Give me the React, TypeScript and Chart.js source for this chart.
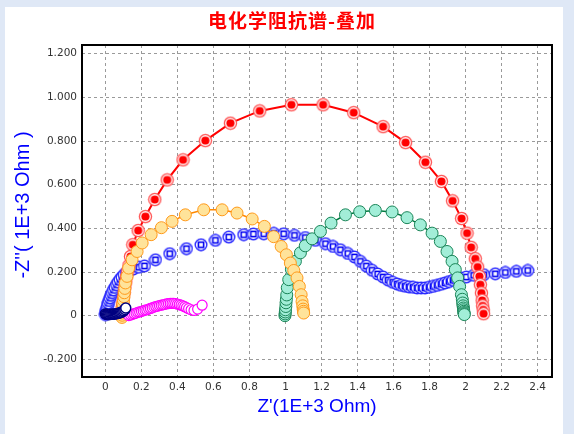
import React, { useEffect, useRef } from "react";
import { Chart, registerables } from "chart.js";

Chart.register(...registerables);

const TITLE = "电化学阻抗谱-叠加";
const X_TITLE = "Z'(1E+3 Ohm)";
const Y_TITLE = "-Z''( 1E+3 Ohm )";

const xTicks = [0, 0.2, 0.4, 0.6, 0.8, 1, 1.2, 1.4, 1.6, 1.8, 2, 2.2, 2.4];
const xTickLabels = ["0", "0.2", "0.4", "0.6", "0.8", "1", "1.2", "1.4", "1.6", "1.8", "2", "2.2", "2.4"];
const yTicks = [-0.2, 0, 0.2, 0.4, 0.6, 0.8, 1.0, 1.2];
const yTickLabels = ["-0.200", "0", "0.200", "0.400", "0.600", "0.800", "1.000", "1.200"];

// Red series
const redX = [0.089, 0.090, 0.092, 0.094, 0.097, 0.100, 0.104, 0.108, 0.113, 0.118, 0.124, 0.131, 0.139, 0.152, 0.182, 0.222, 0.274, 0.343, 0.431, 0.555, 0.694, 0.857, 1.033, 1.209, 1.379, 1.542, 1.667, 1.777, 1.866, 1.928, 1.978, 2.008, 2.031, 2.054, 2.067, 2.077, 2.082, 2.088, 2.092, 2.095, 2.098, 2.100];
const redY = [0.005, 0.015, 0.027, 0.042, 0.060, 0.082, 0.106, 0.130, 0.155, 0.180, 0.204, 0.230, 0.271, 0.325, 0.390, 0.454, 0.532, 0.622, 0.714, 0.802, 0.882, 0.938, 0.966, 0.966, 0.930, 0.866, 0.793, 0.703, 0.615, 0.526, 0.445, 0.378, 0.313, 0.261, 0.223, 0.180, 0.142, 0.104, 0.070, 0.045, 0.027, 0.009];

// Orange series
const orangeX = [0.092, 0.093, 0.094, 0.095, 0.096, 0.097, 0.100, 0.103, 0.105, 0.108, 0.111, 0.120, 0.129, 0.148, 0.176, 0.204, 0.254, 0.311, 0.370, 0.444, 0.546, 0.648, 0.731, 0.815, 0.883, 0.934, 0.976, 1.005, 1.027, 1.046, 1.064, 1.077, 1.087, 1.092, 1.096, 1.098, 1.100, 1.101];
const orangeY = [-0.008, 0.002, 0.012, 0.023, 0.038, 0.055, 0.070, 0.087, 0.105, 0.125, 0.150, 0.180, 0.218, 0.256, 0.294, 0.333, 0.371, 0.403, 0.432, 0.462, 0.485, 0.485, 0.470, 0.443, 0.409, 0.362, 0.317, 0.279, 0.241, 0.207, 0.173, 0.134, 0.096, 0.065, 0.045, 0.030, 0.020, 0.012];

// Green series
const greenX = [0.997, 0.998, 0.999, 1.000, 1.002, 1.003, 1.005, 1.007, 1.010, 1.018, 1.033, 1.055, 1.083, 1.110, 1.148, 1.194, 1.253, 1.333, 1.412, 1.499, 1.592, 1.675, 1.749, 1.814, 1.860, 1.897, 1.925, 1.943, 1.956, 1.967, 1.977, 1.982, 1.984, 1.986, 1.988, 1.989, 1.990, 1.991, 1.992, 1.993];
const greenY = [0.000, 0.008, 0.017, 0.027, 0.042, 0.059, 0.075, 0.095, 0.128, 0.165, 0.211, 0.249, 0.288, 0.320, 0.352, 0.386, 0.424, 0.462, 0.476, 0.482, 0.475, 0.449, 0.416, 0.378, 0.340, 0.294, 0.249, 0.211, 0.173, 0.134, 0.096, 0.075, 0.058, 0.045, 0.035, 0.027, 0.020, 0.014, 0.009, 0.005];

// Blue series (circle + square markers)
const blueX = [0.000, 0.002, 0.005, 0.008, 0.012, 0.016, 0.021, 0.026, 0.032, 0.038, 0.045, 0.053, 0.062, 0.071, 0.081, 0.092, 0.104, 0.118, 0.134, 0.155, 0.185, 0.217, 0.278, 0.357, 0.450, 0.531, 0.611, 0.685, 0.768, 0.822, 0.879, 0.935, 0.990, 1.050, 1.110, 1.166, 1.222, 1.264, 1.305, 1.346, 1.383, 1.416, 1.449, 1.481, 1.512, 1.542, 1.570, 1.595, 1.620, 1.642, 1.664, 1.686, 1.708, 1.731, 1.753, 1.775, 1.797, 1.819, 1.842, 1.864, 1.886, 1.908, 1.930, 1.953, 1.975, 2.004, 2.045, 2.101, 2.165, 2.221, 2.282, 2.345];
const blueY = [0.005, 0.014, 0.024, 0.035, 0.046, 0.058, 0.070, 0.082, 0.094, 0.106, 0.118, 0.130, 0.142, 0.154, 0.166, 0.177, 0.188, 0.198, 0.207, 0.214, 0.222, 0.228, 0.256, 0.284, 0.307, 0.325, 0.345, 0.360, 0.371, 0.374, 0.375, 0.377, 0.375, 0.368, 0.358, 0.345, 0.330, 0.317, 0.302, 0.285, 0.269, 0.249, 0.227, 0.208, 0.191, 0.177, 0.163, 0.153, 0.145, 0.139, 0.135, 0.132, 0.130, 0.127, 0.127, 0.127, 0.130, 0.134, 0.139, 0.144, 0.150, 0.156, 0.162, 0.166, 0.171, 0.177, 0.185, 0.188, 0.192, 0.198, 0.203, 0.207];

// Magenta series
const magentaX = [0.130, 0.140, 0.150, 0.160, 0.170, 0.180, 0.190, 0.200, 0.210, 0.220, 0.230, 0.240, 0.250, 0.260, 0.270, 0.280, 0.290, 0.300, 0.310, 0.320, 0.330, 0.340, 0.350, 0.360, 0.370, 0.380, 0.390, 0.400, 0.410, 0.420, 0.430, 0.440, 0.450, 0.462, 0.476, 0.492, 0.512, 0.537];
const magentaY = [0.000, 0.003, 0.006, 0.009, 0.012, 0.015, 0.017, 0.020, 0.022, 0.025, 0.027, 0.030, 0.033, 0.036, 0.039, 0.042, 0.044, 0.046, 0.048, 0.050, 0.052, 0.054, 0.055, 0.056, 0.056, 0.056, 0.055, 0.053, 0.051, 0.048, 0.045, 0.041, 0.037, 0.032, 0.027, 0.024, 0.030, 0.048];

// Navy series (dense cluster near origin)
const navyX = [0.000, 0.006, 0.012, 0.018, 0.024, 0.030, 0.036, 0.042, 0.048, 0.054, 0.060, 0.066, 0.072, 0.078, 0.084, 0.090, 0.096, 0.102, 0.108, 0.113];
const navyY = [0.008, 0.006, 0.005, 0.005, 0.005, 0.006, 0.006, 0.007, 0.008, 0.008, 0.009, 0.010, 0.011, 0.012, 0.014, 0.016, 0.019, 0.023, 0.028, 0.035];

const X_MIN = -0.13;
const X_MAX = 2.48;
const Y_MIN = -0.281;
const Y_MAX = 1.24;

function pts(xs: number[], ys: number[]) {
  return xs.map((x, i) => ({ x, y: ys[i] }));
}

function makeMarker(size: number, draw: (ctx: CanvasRenderingContext2D, c: number) => void) {
  const cv = document.createElement("canvas");
  cv.width = size;
  cv.height = size;
  const ctx = cv.getContext("2d")!;
  draw(ctx, size / 2);
  return cv;
}

export default function App() {
  const ref = useRef<HTMLCanvasElement | null>(null);

  useEffect(() => {
    document.body.style.margin = "0";
    const canvas = ref.current;
    if (!canvas) return;

    const redMarker = makeMarker(15, (ctx, c) => {
      ctx.beginPath();
      ctx.arc(c, c, 6.7, 0, Math.PI * 2);
      ctx.fillStyle = "#ff5252";
      ctx.fill();
      ctx.beginPath();
      ctx.arc(c, c, 5.4, 0, Math.PI * 2);
      ctx.fillStyle = "#ffffff";
      ctx.fill();
      ctx.beginPath();
      ctx.arc(c, c, 4.1, 0, Math.PI * 2);
      ctx.fillStyle = "#ff0000";
      ctx.fill();
    });

    const blueMarker = makeMarker(14, (ctx, c) => {
      ctx.beginPath();
      ctx.arc(c, c, 5.8, 0, Math.PI * 2);
      ctx.fillStyle = "#ffffff";
      ctx.fill();
      ctx.lineWidth = 1.4;
      ctx.strokeStyle = "#2a2aff";
      ctx.stroke();
      ctx.lineWidth = 1.6;
      ctx.strokeStyle = "#0000f0";
      ctx.strokeRect(c - 2.6, c - 2.6, 5.2, 5.2);
    });

    const bgPlugin = {
      id: "bgPlugin",
      beforeDraw(chart: any) {
        const ctx = chart.ctx;
        ctx.save();
        ctx.fillStyle = "#dfe8f6";
        ctx.fillRect(0, 0, chart.width, chart.height);
        ctx.fillStyle = "#ffffff";
        ctx.fillRect(5, 7, 558, chart.height - 7);
        ctx.restore();
      },
      afterDraw(chart: any) {
        const ctx = chart.ctx;
        const a = chart.chartArea;
        ctx.save();
        ctx.strokeStyle = "#000000";
        ctx.lineWidth = 2;
        ctx.strokeRect(a.left, a.top, a.right - a.left, a.bottom - a.top);

        ctx.fillStyle = "#ff0000";
        ctx.font = 'bold 19px "Noto Sans CJK SC"';
        ctx.textAlign = "center";
        ctx.textBaseline = "middle";
        try { (ctx as any).letterSpacing = "1px"; } catch (e) {}
        ctx.fillText(TITLE, 292, 21);
        try { (ctx as any).letterSpacing = "0px"; } catch (e) {}

        ctx.fillStyle = "#0000ff";
        ctx.font = '19px "Liberation Sans", Arial, sans-serif';
        ctx.fillText(X_TITLE, 317, 407);

        ctx.translate(23, 205);
        ctx.rotate(-Math.PI / 2);
        ctx.font = '20px "Liberation Sans", Arial, sans-serif';
        ctx.fillText(Y_TITLE, 0, 0);
        ctx.restore();
      },
    };

    const tickFont = { family: '"DejaVu Sans", sans-serif', size: 10.5 };

    const chart = new Chart(canvas, {
      type: "scatter",
      data: {
        datasets: [
          {
            label: "navy",
            data: pts(navyX, navyY),
            showLine: false,
            pointStyle: "circle",
            pointRadius: 5,
            pointBackgroundColor: "#ffffff",
            pointBorderColor: "#000080",
            pointBorderWidth: 1.5,
            order: 0,
          },
          {
            label: "magenta",
            data: pts(magentaX, magentaY),
            showLine: false,
            pointStyle: "circle",
            pointRadius: 5,
            pointBackgroundColor: "#ffffff",
            pointBorderColor: "#ff00ff",
            pointBorderWidth: 1.2,
            order: 1,
          },
          {
            label: "orange",
            data: pts(orangeX, orangeY),
            showLine: true,
            borderColor: "#ff8800",
            borderWidth: 1.5,
            pointStyle: "circle",
            pointRadius: 6,
            pointBackgroundColor: "#ffe39a",
            pointBorderColor: "#ff9a1a",
            pointBorderWidth: 1,
            order: 2,
          },
          {
            label: "red",
            data: pts(redX, redY),
            showLine: true,
            borderColor: "#ff0000",
            borderWidth: 2,
            pointStyle: redMarker as any,
            pointRadius: 6,
            order: 3,
          },
          {
            label: "green",
            data: pts(greenX, greenY),
            showLine: true,
            borderColor: "#007a40",
            borderWidth: 1.5,
            pointStyle: "circle",
            pointRadius: 6,
            pointBackgroundColor: "#a2eed8",
            pointBorderColor: "#1a8558",
            pointBorderWidth: 1,
            order: 4,
          },
          {
            label: "blue",
            data: pts(blueX, blueY),
            showLine: false,
            pointStyle: blueMarker as any,
            pointRadius: 6,
            order: 5,
          },
        ],
      },
      options: {
        animation: false,
        responsive: false,
        devicePixelRatio: 1,
        events: [],
        layout: { padding: { left: 0, top: 45, right: 22, bottom: 0 } },
        plugins: {
          legend: { display: false },
          tooltip: { enabled: false },
          title: { display: false },
        },
        scales: {
          x: {
            type: "linear",
            min: X_MIN,
            max: X_MAX,
            afterBuildTicks: (s: any) => {
              s.ticks = xTicks.map((v) => ({ value: v }));
            },
            afterFit: (s: any) => {
              s.height = 57;
            },
            ticks: {
              autoSkip: false,
              maxRotation: 0,
              padding: 4,
              color: "#333333",
              font: tickFont,
              callback: (v: any) => {
                const i = xTicks.findIndex((t) => Math.abs(t - Number(v)) < 1e-6);
                return i >= 0 ? xTickLabels[i] : "";
              },
            },
            grid: { color: "#9a9a9a", lineWidth: 1, drawTicks: false },
            border: { display: false, dash: [3, 3] },
          },
          y: {
            type: "linear",
            min: Y_MIN,
            max: Y_MAX,
            afterBuildTicks: (s: any) => {
              s.ticks = yTicks.map((v) => ({ value: v }));
            },
            afterFit: (s: any) => {
              s.width = 82;
            },
            ticks: {
              autoSkip: false,
              padding: 5,
              color: "#333333",
              font: tickFont,
              callback: (v: any) => {
                const i = yTicks.findIndex((t) => Math.abs(t - Number(v)) < 1e-6);
                return i >= 0 ? yTickLabels[i] : "";
              },
            },
            grid: { color: "#9a9a9a", lineWidth: 1, drawTicks: false },
            border: { display: false, dash: [3, 3] },
          },
        },
      },
      plugins: [bgPlugin],
    } as any);

    return () => chart.destroy();
  }, []);

  return <canvas ref={ref} width={574} height={434} style={{ display: "block" }} />;
}
